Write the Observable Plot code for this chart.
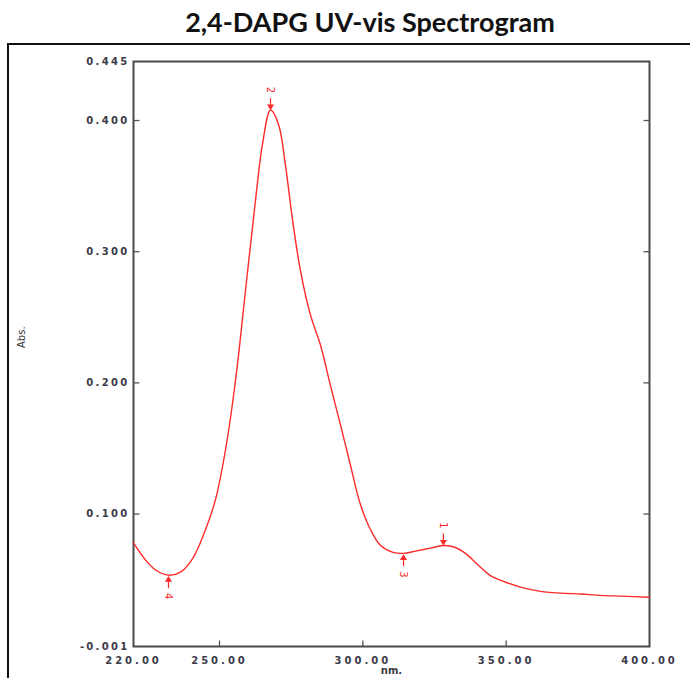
<!DOCTYPE html>
<html>
<head>
<meta charset="utf-8">
<script src="https://cdn.jsdelivr.net/npm/d3@7"></script>
<script src="https://cdn.jsdelivr.net/npm/@observablehq/plot@0.6"></script>
<style>
  html, body { margin: 0; padding: 0; background: #fff; }
  #wrap { position: relative; width: 690px; height: 678px; overflow: hidden; background: #fff; }
  #title { position: absolute; left: 0; top: 5px; width: 740px; text-align: center;
           font-family: Lato, "Open Sans", sans-serif; font-weight: 700; font-size: 27px; color: #111; }
  #border { position: absolute; left: 7px; top: 43px; width: 720px; height: 700px; border: 2px solid #111; }
  #chart { position: absolute; left: 0; top: 0; }
  #chart g[aria-label="y-axis tick label"] { letter-spacing: 2.3px; }
  #chart g[aria-label="x-axis tick label"] { letter-spacing: 3px; }
</style>
</head>
<body>
<div id="wrap">
  <div id="title">2,4-DAPG UV-vis Spectrogram</div>
  <div id="border"></div>
  <div id="chart"></div>
</div>
<script>
// wavelength (nm) and absorbance
const wavelength = [220, 224.2, 227.7, 232.2, 236.4, 240.6, 245.1, 248.6, 252.1, 255.6, 259.1, 262.6, 265.0, 267.8, 270.6, 273.0, 275.5, 278.2, 281.7, 285.2, 288.7, 292.2, 295.7, 299.2, 302.7, 306.2, 310.3, 314.2, 318.4, 323.6, 328.1, 332.3, 335.8, 340.3, 344.5, 349.8, 355, 362, 369, 376, 383, 390, 400];
const absorbance = [0.078, 0.065, 0.0573, 0.0534, 0.0557, 0.066, 0.088, 0.111, 0.149, 0.202, 0.271, 0.340, 0.382, 0.408, 0.397, 0.366, 0.324, 0.286, 0.252, 0.229, 0.198, 0.168, 0.137, 0.107, 0.088, 0.076, 0.071, 0.070, 0.0717, 0.074, 0.076, 0.0745, 0.070, 0.061, 0.053, 0.048, 0.0443, 0.041, 0.0397, 0.039, 0.038, 0.0374, 0.0366];

// picked peaks / valleys
const peakLabels = ["1", "2", "3", "4"];
const peakNm = [328.1, 267.8, 314.2, 232.2];
const peakAbs = [0.076, 0.408, 0.070, 0.0534];
const peakSide = ["above", "above", "below", "below"];

// axis ticks
const yTickValues = [-0.001, 0.100, 0.200, 0.300, 0.400, 0.445];
const yInnerTicks = [0.100, 0.200, 0.300, 0.400];
const xTickValues = [220, 250, 300, 350, 400];
const xInnerTicks = [250, 300, 350];

const spectrum = wavelength.map((w, i) => ({nm: w, abs: absorbance[i]}));
const peaks = peakLabels.map((l, i) => ({label: l, nm: peakNm[i], abs: peakAbs[i], side: peakSide[i]}));

const arrowDown = { draw(ctx) { ctx.moveTo(0, -11); ctx.lineTo(0, -3); ctx.moveTo(-2.5, -4); ctx.lineTo(0, 0); ctx.lineTo(2.5, -4); ctx.closePath(); } };
const arrowUp = { draw(ctx) { ctx.moveTo(0, 11); ctx.lineTo(0, 3); ctx.moveTo(-2.5, 4); ctx.lineTo(0, 0); ctx.lineTo(2.5, 4); ctx.closePath(); } };
const tickRight = { draw(ctx) { ctx.moveTo(0, 0); ctx.lineTo(6, 0); } };
const tickLeft = { draw(ctx) { ctx.moveTo(0, 0); ctx.lineTo(-6, 0); } };
const tickUp = { draw(ctx) { ctx.moveTo(0, 0); ctx.lineTo(0, -6); } };

const hyphen = f => d => f(d).replace("\u2212", "-");
const tickFont = "DejaVu Sans, sans-serif";
const red = "#ff2a2a";
const axisColor = "#3a3a48";

const chart = Plot.plot({
  width: 690,
  height: 678,
  marginLeft: 133,
  marginRight: 41,
  marginTop: 61,
  marginBottom: 32,
  style: {fontFamily: tickFont, background: "transparent", overflow: "visible"},
  x: {domain: [220, 400]},
  y: {domain: [-0.001, 0.445]},
  marks: [
    // tick labels
    Plot.axisY({ticks: yTickValues, tickSize: 0, tickPadding: 4, tickFormat: hyphen(d3.format(".3f")),
      fontSize: 10, fontWeight: "bold", fill: axisColor, label: null}),
    Plot.axisX({ticks: xTickValues, tickSize: 0, tickPadding: 10, tickFormat: hyphen(d3.format(".2f")),
      fontSize: 10, fontWeight: "bold", fill: axisColor, label: null}),
    // inward ticks
    Plot.dot(yInnerTicks, {y: d => d, frameAnchor: "left", symbol: tickRight, r: 3, stroke: "#555", strokeWidth: 1.3, fill: "none"}),
    Plot.dot(yInnerTicks, {y: d => d, frameAnchor: "right", symbol: tickLeft, r: 3, stroke: "#555", strokeWidth: 1.3, fill: "none"}),
    Plot.dot(xInnerTicks, {x: d => d, frameAnchor: "bottom", symbol: tickUp, r: 3, stroke: "#555", strokeWidth: 1.3, fill: "none"}),
    Plot.frame({stroke: "#4a4a4a", strokeWidth: 2}),
    // axis titles
    Plot.text(["nm."], {frameAnchor: "bottom", dx: 0, dy: 27, fontSize: 10, fontWeight: "bold", fill: axisColor, style: {letterSpacing: "2px"}}),
    Plot.text(["Abs."], {frameAnchor: "left", dx: -112, dy: -6, rotate: -90, fontSize: 10, fill: "#333"}),
    // spectrum
    Plot.line(spectrum, {x: "nm", y: "abs", stroke: red, strokeWidth: 1.4, curve: "catmull-rom"}),
    // peak markers
    Plot.dot(peaks.filter(d => d.side === "above"), {x: "nm", y: "abs", symbol: arrowDown, r: 5, stroke: red, fill: red, strokeWidth: 1.2, dy: -1}),
    Plot.dot(peaks.filter(d => d.side === "below"), {x: "nm", y: "abs", symbol: arrowUp, r: 5, stroke: red, fill: red, strokeWidth: 1.2, dy: 2}),
    Plot.text(peaks.filter(d => d.side === "above"), {x: "nm", y: "abs", text: "label", rotate: 90, dy: -20, fontSize: 10, fill: red}),
    Plot.text(peaks.filter(d => d.side === "below"), {x: "nm", y: "abs", text: "label", rotate: 90, dy: 21, fontSize: 10, fill: red})
  ]
});
document.getElementById("chart").appendChild(chart);
</script>
</body>
</html>
